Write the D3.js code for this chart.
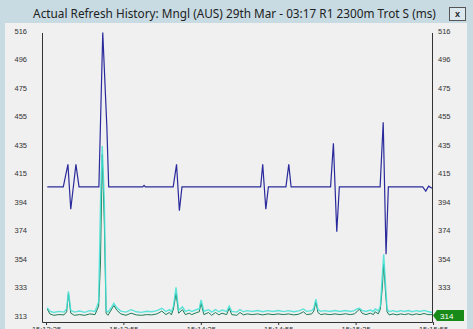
<!DOCTYPE html>
<html>
<head>
<meta charset="utf-8">
<script src="https://cdn.jsdelivr.net/npm/d3@7"></script>
<style>
    body { margin: 0; background: #c8dbe3; }
    svg { display: block; }
</style>
</head>
<body>
<div id="chart"></div>
<script>
    "use strict";

    var title = "Actual Refresh History: Mngl (AUS) 29th Mar - 03:17 R1 2300m Trot S (ms)";

    // time axis (seconds from first sample)
    var timeTicks  = [0, 30, 60, 90, 120, 150];
    var timeLabels = ["15:13:25", "15:13:55", "15:14:25", "15:14:55", "15:15:25", "15:15:55"];

    // value axis
    var yTicks      = [313, 333.3, 353.6, 373.9, 394.2, 414.5, 434.8, 455.1, 475.4, 495.7, 516];
    var yTickLabels = ["313", "333", "354", "374", "394", "415", "435", "455", "475", "496", "516"];
    var lastLabel   = "314";

    // [t, ms] samples
    var navySeries = [[0.5,405],[6.7,405],[8.5,421],[9.6,389],[11.6,421],[12.8,405],[20.5,405],[22,515],[23.6,447],[24.3,405],
	[37.5,405],[38,406],[38.5,405],[49.3,405],[50.6,421],[51.7,388],[52.7,405],[83.2,405],[84,421],[85.2,389],[86.2,405],
	[93,405],[94.1,421],[95,405],[110.3,405],[111.4,436],[112.7,373],[113.7,405],[129.5,405],[130.7,451],[131.8,357],
	[132.7,405],[146,405],[147.2,402],[148.3,405.5],[149.6,404]];

    var greenSeries = [[0.5,318],[1.5,314.5],[3,313.5],[5,314],[7,313.8],[8,316],[8.7,329],[9.6,315],[11,313.5],[13,314],
	[15,313.5],[17,314.5],[19,314],[20.4,320],[21.1,350],[21.8,428],[22.6,380],[23.3,315],[24,313.5],[25.5,318],[26.3,320.5],
	[27.5,317],[29,314.5],[31,313.5],[33,315],[35,313.8],[37,313.5],[39,314],[41,313.8],[43,314.5],[44.9,316.5],[46.5,314],
	[47.8,315.5],[48.6,313.8],[49.4,318],[50.4,329],[51.4,315],[52.9,317.5],[54,314],[55.5,315],[56.5,314],[58.5,315.5],
	[59.4,316],[60.1,322],[61.2,314],[63,315.5],[64.2,313.5],[65.7,315.5],[67,313.8],[68.2,315],[70,314],[71,318.5],[72,314],
	[74,313.5],[75.2,315.5],[76.5,313.8],[78,314.5],[80,314],[82,314.5],[84,313.8],[86,314.5],[88,314],[90,314.5],[92,314],
	[94,314.5],[96,313.8],[98,314.3],[99.8,316],[101,314],[103,314.5],[103.8,316.5],[104.6,323],[105.4,315.5],[106.5,314],
	[108,314.5],[110,314],[112,314.5],[114,314],[116,314.6],[118,314],[119.5,314.5],[120.5,316],[121.5,318],[122.5,315],
	[124,314],[125.7,315],[126.9,314],[127.6,316],[128.8,314.5],[129.6,318],[130.3,332],[130.9,350],[131.6,330],[132.2,316],
	[133,313.8],[134.5,314.5],[136,313.8],[137.5,314.5],[139,314],[140.5,314.6],[142,313.8],[143.5,314.5],[145,314],
	[146.5,314.8],[148,314],[149.6,314]];

    var cyanSeries = [[0.5,319],[1.5,316.5],[3,315.5],[5,316.3],[7,315.8],[8,318],[8.7,330.5],[9.6,317],[11,315.8],[13,316.5],
	[15,315.6],[17,316.8],[19,316.2],[20.4,323],[21.2,400],[21.8,434],[22.6,395],[23.3,317],[24,315.8],[25.5,319.5],[26.3,322],
	[27.5,318.8],[29,316.5],[31,315.8],[33,317.5],[35,316],[37,315.6],[39,316.4],[41,316],[43,316.8],[44.9,318.5],[46.5,316.2],
	[47.8,317.5],[48.6,316],[49.4,320],[50.4,333.4],[51.4,317],[52.9,319.5],[54,316.3],[55.5,317.2],[56.5,316.2],[58.5,317.6],
	[59.4,318],[60.1,324.4],[61.2,316.4],[63,317.5],[64.2,315.8],[65.7,317.6],[67,316],[68.2,317.2],[70,316.2],[71,320],
	[72,316.3],[74,315.8],[75.2,317.6],[76.5,316],[78,316.8],[80,316.2],[82,316.9],[84,316],[86,316.8],[88,316.2],[90,316.9],
	[92,316.1],[94,316.8],[96,316],[98,316.6],[99.8,318],[101,316.3],[103,316.8],[103.8,318.5],[104.6,325],[105.4,317.5],
	[106.5,316.3],[108,316.8],[110,316.2],[112,316.9],[114,316.2],[116,316.9],[118,316.2],[119.5,316.8],[120.5,318],
	[121.5,318.5],[122.5,317],[124,316.2],[125.7,317.2],[126.9,316.2],[127.6,318],[128.8,316.6],[129.6,320],[130.3,340],
	[130.9,357],[131.6,335],[132.2,318],[133,316],[134.5,316.8],[136,316],[137.5,316.8],[139,316.2],[140.5,316.9],[142,316],
	[143.5,316.8],[145,316.2],[146.5,317],[148,316.2],[149.6,315.5]];

    var width = 473, height = 329;
    var tickFont = "'Liberation Sans', Arial, sans-serif";

    var svg = d3.select("#chart")
	.append("svg")
	.attr("width", width)
	.attr("height", height);

    // window + title
    svg.append("rect")
	.attr("width", width)
	.attr("height", height)
	.attr("fill", "#c8dbe3");

    // title is squeezed horizontally to the width it has in the original window
    var titleText = svg.append("text")
	.attr("text-anchor", "middle")
	.style("font-family", "'Noto Sans', 'Open Sans', sans-serif")
	.style("font-size", "13px")
	.style("fill", "#222")
	.text(title);
    var sx = 403 / titleText.node().getComputedTextLength();
    titleText.attr("transform", "translate(234.5,18) scale(" + sx + ",1)");

    var closeBtn = svg.append("g").attr("transform", "translate(449.5,7.5)");
    closeBtn.append("rect")
	.attr("width", 16)
	.attr("height", 13)
	.attr("fill", "#dce8ed")
	.attr("stroke", "#555");
    closeBtn.append("text")
	.attr("x", 8)
	.attr("y", 9.5)
	.attr("text-anchor", "middle")
	.style("font-family", tickFont)
	.style("font-size", "9px")
	.style("font-weight", "bold")
	.style("fill", "#222")
	.text("x");

    // chart panel
    svg.append("rect")
	.attr("x", 5)
	.attr("y", 23)
	.attr("width", 462)
	.attr("height", height - 23)
	.attr("fill", "#f0f0f0");

    var x = d3.scaleLinear().domain([0, 150]).range([46, 433]);
    var y = d3.scaleLinear().domain([313, 516]).range([316, 31]);

    var styleAxis = function (g) {
	g.select(".domain").remove();
	g.selectAll("line").attr("stroke", "#333");
	g.selectAll("text")
	    .style("font-family", tickFont)
	    .style("font-size", "7.5px")
	    .style("fill", "#333");
    };

    svg.append("g")
	.attr("transform", "translate(42,0)")
	.call(d3.axisLeft(y)
	      .tickValues(yTicks)
	      .tickSize(0)
	      .tickPadding(15)
	      .tickFormat(function (d, i) { return yTickLabels[i]; }))
	.call(styleAxis);

    svg.append("g")
	.attr("transform", "translate(432,0)")
	.call(d3.axisRight(y)
	      .tickValues(yTicks.slice(1))
	      .tickSize(0)
	      .tickPadding(6)
	      .tickFormat(function (d, i) { return yTickLabels[i + 1]; }))
	.call(styleAxis);

    svg.append("g")
	.attr("transform", "translate(0,322)")
	.call(d3.axisBottom(x)
	      .tickValues(timeTicks)
	      .tickSizeInner(3)
	      .tickSizeOuter(0)
	      .tickPadding(2)
	      .tickFormat(function (d, i) { return timeLabels[i]; }))
	.call(styleAxis);

    // frame lines
    svg.append("path")
	.attr("d", "M42.5,33V322.5H432.5V33")
	.attr("fill", "none")
	.attr("stroke", "#333");

    var line = d3.line()
	.x(function (d) { return x(d[0]); })
	.y(function (d) { return y(d[1]); });

    svg.append("path")
	.datum(greenSeries)
	.attr("d", line)
	.attr("fill", "none")
	.attr("stroke", "#1e7a55")
	.attr("stroke-width", 1);

    svg.append("path")
	.datum(cyanSeries)
	.attr("d", line)
	.attr("fill", "none")
	.attr("stroke", "#40e2d6")
	.attr("stroke-opacity", 0.85)
	.attr("stroke-width", 1.4);

    svg.append("path")
	.datum(navySeries)
	.attr("d", line)
	.attr("fill", "none")
	.attr("stroke", "#2a2a9c")
	.attr("stroke-width", 1.2);

    // current value tag
    var lastY = y(greenSeries[greenSeries.length - 1][1]) + 1;
    var tag = svg.append("g").attr("transform", "translate(433," + lastY + ")");
    tag.append("path")
	.attr("d", "M0,0L4,-5.5H31V5.5H4Z")
	.attr("fill", "#178a17");
    tag.append("text")
	.attr("x", 7)
	.attr("y", 3)
	.style("font-family", tickFont)
	.style("font-size", "8px")
	.style("fill", "#fff")
	.text(lastLabel);
</script>
</body>
</html>
